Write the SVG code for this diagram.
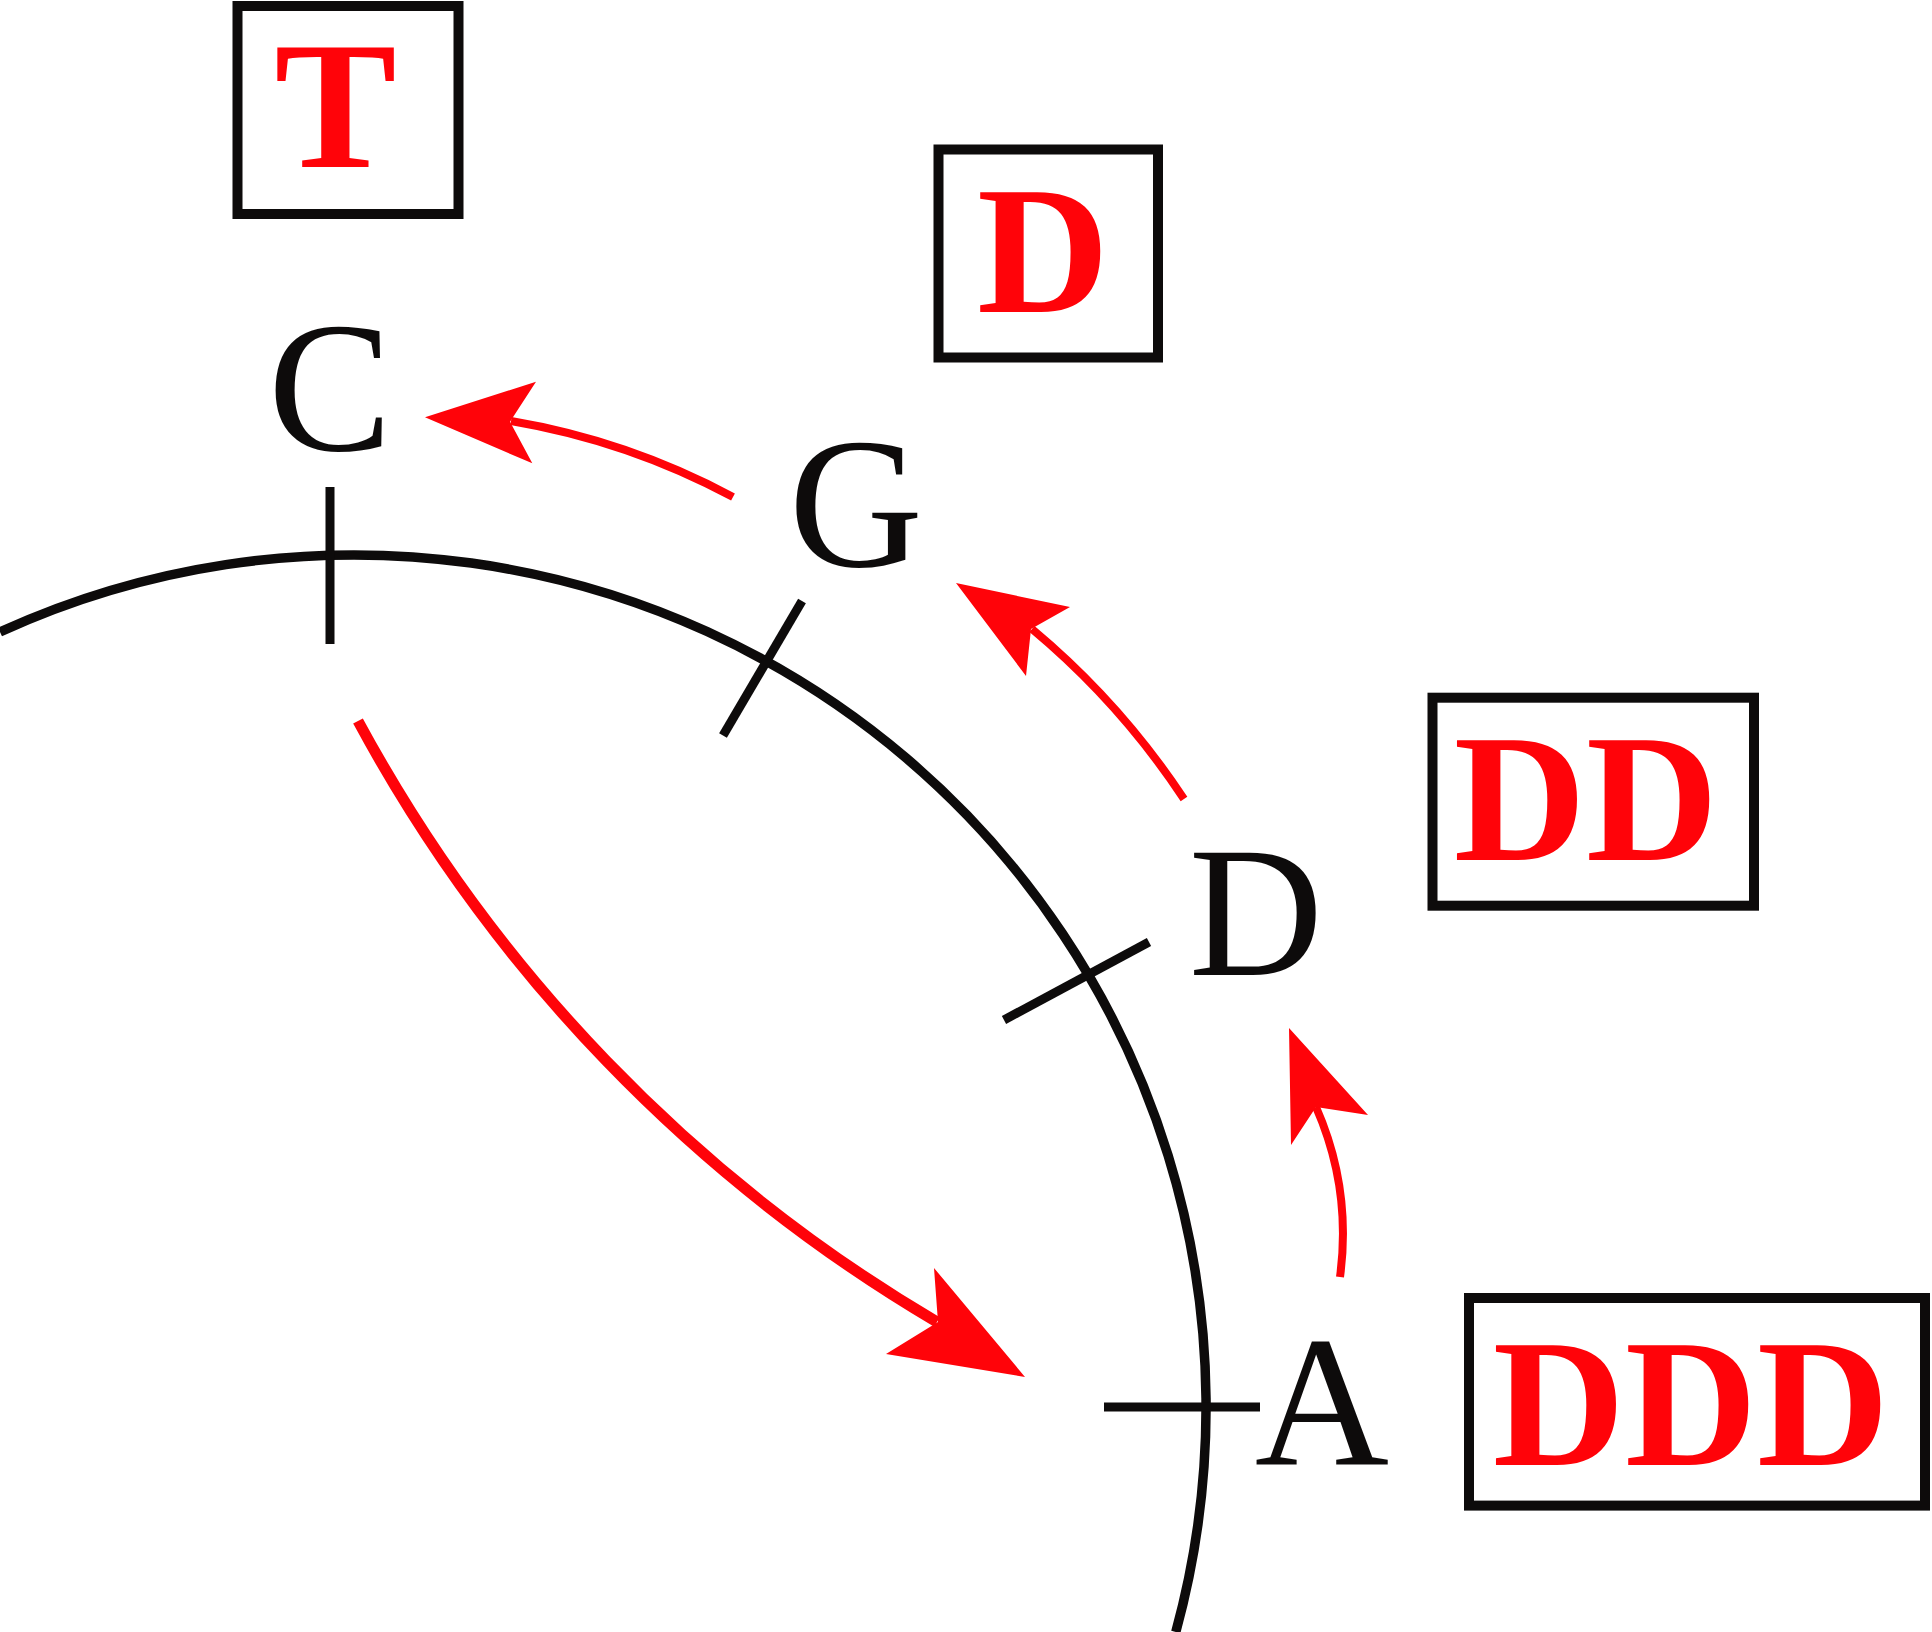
<svg xmlns="http://www.w3.org/2000/svg" width="1932" height="1632" viewBox="0 0 1932 1632">
<style>
.bg{fill:#ffffff}
.box{fill:none;stroke:#0d0b0b;stroke-width:10}
.lbl{font-family:"Liberation Serif","Times New Roman",serif;font-size:186px;fill:#0d0b0b;text-anchor:middle}
.red{font-family:"Liberation Serif","Times New Roman",serif;font-size:183px;font-weight:bold;fill:#ff0309;text-anchor:middle}
.arc{fill:none;stroke:#0d0b0b;stroke-width:9.5}
.tick{stroke:#0d0b0b;stroke-width:9}
.shaft{fill:none;stroke:#ff0309;stroke-width:8}
.shaft2{fill:none;stroke:#ff0309;stroke-width:11}
.head{fill:#ff0309;stroke:none}
</style>
<rect class="bg" x="0" y="0" width="1932" height="1632"/>
<g id="circle">
<path class="arc" d="M 0,632 A 852 852 0 0 1 1175.8,1632"/>
</g>
<g id="ticks">
<line class="tick" x1="330" y1="487" x2="330" y2="644"/>
<line class="tick" x1="723" y1="735.5" x2="802" y2="601"/>
<line class="tick" x1="1004" y1="1020" x2="1149" y2="942"/>
<line class="tick" x1="1104" y1="1407" x2="1260" y2="1407"/>
</g>
<g id="box-T">
<rect class="box" x="237.5" y="6" width="221" height="208"/>
<text class="red" x="335.5" y="167">T</text>
</g>
<g id="box-D">
<rect class="box" x="938.5" y="149.5" width="219.5" height="208"/>
<text class="red" x="1043" y="312">D</text>
</g>
<g id="box-DD">
<rect class="box" x="1432.5" y="697.7" width="321.5" height="208"/>
<text class="red" x="1586" y="860">DD</text>
</g>
<g id="box-DDD">
<rect class="box" x="1469" y="1298" width="456" height="207.6"/>
<text class="red" x="1691" y="1465">DDD</text>
</g>
<g id="label-C"><text class="lbl" x="330" y="450">C</text></g>
<g id="label-G"><text class="lbl" x="856" y="566">G</text></g>
<g id="label-D"><text class="lbl" x="1256" y="975">D</text></g>
<g id="label-A"><text class="lbl" x="1322" y="1465">A</text></g>
<g id="connectors">
<path class="shaft" d="M 733,497 A 726 726 0 0 0 511,421"/>
<polygon class="head" points="425,417.3 536,381.7 510,421.7 532.3,463.3"/>
<path class="shaft2" d="M 358,721 A 1556 1556 0 0 0 937,1322"/>
<polygon class="head" points="1025,1377 934,1268 938,1322 886,1354"/>
<path class="shaft" d="M 1184,799 A 785 785 0 0 0 1032,629"/>
<polygon class="head" points="956,583 1070,607 1031,629 1026,676"/>
<path class="shaft" d="M 1340,1277 A 317 317 0 0 0 1316,1107"/>
<polygon class="head" points="1289,1028 1368,1115 1316,1107 1291,1145"/>
</g>
</svg>
